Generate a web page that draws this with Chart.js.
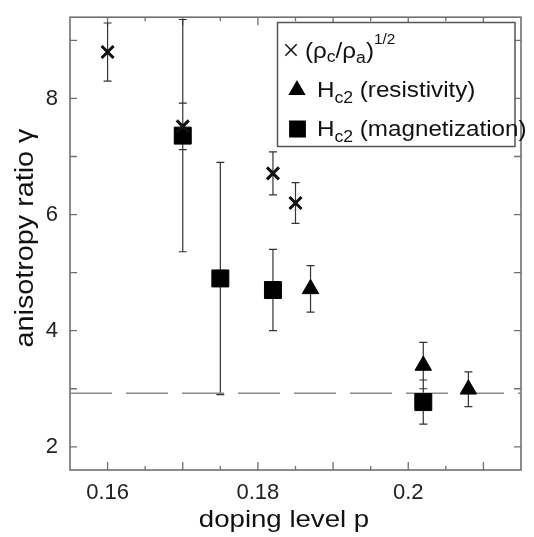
<!DOCTYPE html>
<html>
<head>
<meta charset="utf-8">
<script src="https://cdn.jsdelivr.net/npm/chart.js@4.4.1/dist/chart.umd.min.js"></script>
<style>
  html, body { margin: 0; padding: 0; background: #fff; }
  canvas { display: block; }
</style>
</head>
<body>
<canvas id="chart" width="534" height="537"></canvas>
<script>
// axes
const xMin = 0.155, xMax = 0.215;
const yMin = 1.6, yMax = 9.4;
const xTicks = [0.16, 0.18, 0.2];
const xTickLabels = ['0.16', '0.18', '0.2'];
const xTickMarks = [0.16, 0.17, 0.18, 0.19, 0.2, 0.21];
const xMinorMarks = [0.165, 0.175, 0.185, 0.195, 0.205];
const yTicks = [2, 4, 6, 8];
const yTickLabels = ['2', '4', '6', '8'];
const yTickMarks = [2, 3, 4, 5, 6, 7, 8, 9];

// (rho_c/rho_a)^1/2
const rhoP = [0.16, 0.17, 0.182, 0.185];
const rhoGamma = [8.8, 7.52, 6.71, 6.2];
const rhoErr = [0.5, 0.4, 0.37, 0.35];

// Hc2 from resistivity
const resP = [0.187, 0.202, 0.208];
const resGamma = [4.72, 3.4, 2.99];
const resErr = [0.4, 0.4, 0.3];

// Hc2 from magnetization
const magP = [0.17, 0.175, 0.182, 0.202];
const magGamma = [7.36, 4.9, 4.7, 2.77];
const magErr = [2.0, 2.0, 0.7, 0.38];

// dashed reference level
const limitGamma = 2.92;

const FONT = '"Liberation Sans", Arial, Helvetica, sans-serif';
const frameColor = '#707070';

function points(xs, ys) {
  return xs.map((x, i) => ({ x: x, y: ys[i] }));
}

// text with sub/superscripts, slightly stretched like the original
function drawRuns(ctx, runs, x, y, sx, align) {
  ctx.save();
  ctx.translate(x, y);
  ctx.scale(sx, 1);
  let total = 0;
  runs.forEach(r => { ctx.font = r.size + 'px ' + FONT; total += ctx.measureText(r.t).width; });
  let cx = align === 'center' ? -total / 2 : 0;
  ctx.textAlign = 'left';
  ctx.textBaseline = 'alphabetic';
  runs.forEach(r => {
    ctx.font = r.size + 'px ' + FONT;
    ctx.fillText(r.t, cx, r.dy || 0);
    cx += ctx.measureText(r.t).width;
  });
  ctx.restore();
}

const extras = {
  id: 'extras',
  beforeDatasetsDraw(chart) {
    const { ctx, chartArea: a, scales: { x, y } } = chart;
    ctx.save();
    // frame
    ctx.strokeStyle = frameColor;
    ctx.lineWidth = 1.6;
    ctx.strokeRect(a.left, a.top, a.right - a.left, a.bottom - a.top);
    // inward ticks on all four sides
    ctx.lineWidth = 1.3;
    ctx.beginPath();
    xTickMarks.concat(xMinorMarks).forEach(v => {
      const len = xMinorMarks.includes(v) ? 4 : 8;
      const px = x.getPixelForValue(v);
      ctx.moveTo(px, a.bottom); ctx.lineTo(px, a.bottom - len);
      ctx.moveTo(px, a.top); ctx.lineTo(px, a.top + len);
    });
    yTickMarks.forEach(v => {
      const py = y.getPixelForValue(v);
      ctx.moveTo(a.left, py); ctx.lineTo(a.left + 7, py);
      ctx.moveTo(a.right, py); ctx.lineTo(a.right - 7, py);
    });
    ctx.stroke();
    // error bars
    ctx.strokeStyle = '#333';
    ctx.lineWidth = 1.2;
    ctx.beginPath();
    chart.data.datasets.forEach(ds => {
      if (!ds.errors) return;
      ds.data.forEach((p, i) => {
        const px = x.getPixelForValue(p.x);
        const t = y.getPixelForValue(p.y + ds.errors[i]);
        const b = y.getPixelForValue(p.y - ds.errors[i]);
        ctx.moveTo(px, t); ctx.lineTo(px, b);
        ctx.moveTo(px - 4, t); ctx.lineTo(px + 4, t);
        ctx.moveTo(px - 4, b); ctx.lineTo(px + 4, b);
      });
    });
    ctx.stroke();
    ctx.restore();
  },
  afterDraw(chart) {
    const ctx = chart.ctx;
    const dp = Chart.helpers.drawPoint;
    ctx.save();
    // legend box
    ctx.fillStyle = '#fff';
    ctx.fillRect(277.5, 22.5, 237.5, 124);
    ctx.strokeStyle = '#555';
    ctx.lineWidth = 1.5;
    ctx.strokeRect(277.5, 22.5, 237.5, 124);
    // legend markers
    ctx.fillStyle = '#000';
    ctx.strokeStyle = '#111';
    dp(ctx, { pointStyle: 'crossRot', radius: 8, borderWidth: 3, rotation: 0 }, 291, 50);
    ctx.strokeStyle = '#000';
    dp(ctx, { pointStyle: 'triangle', radius: 8.5, borderWidth: 1, rotation: 0 }, 297, 90);
    dp(ctx, { pointStyle: 'rect', radius: 10.8, borderWidth: 1, rotation: 0 }, 297.5, 129);
    // legend text
    ctx.fillStyle = '#111';
    drawRuns(ctx, [
      { t: '(ρ', size: 22 }, { t: 'c', size: 16, dy: 4 },
      { t: '/ρ', size: 22 }, { t: 'a', size: 16, dy: 5 },
      { t: ')', size: 22 }, { t: '1/2', size: 14, dy: -14 }
    ], 305, 58, 1.1);
    drawRuns(ctx, [
      { t: 'H', size: 22 }, { t: 'c2', size: 16, dy: 6 }, { t: ' (resistivity)', size: 22 }
    ], 317, 96.5, 1.1);
    drawRuns(ctx, [
      { t: 'H', size: 22 }, { t: 'c2', size: 16, dy: 6 }, { t: ' (magnetization)', size: 22 }
    ], 317, 136, 1.1);
    // axis titles
    drawRuns(ctx, [{ t: 'doping level p', size: 24 }], 284, 527, 1.15, 'center');
    ctx.translate(33, 238);
    ctx.rotate(-Math.PI / 2);
    drawRuns(ctx, [{ t: 'anisotropy ratio γ', size: 25 }], 0, 0, 1.15, 'center');
    ctx.restore();
  }
};

new Chart(document.getElementById('chart'), {
  type: 'scatter',
  data: {
    datasets: [
      {
        label: '(ρc/ρa)^1/2',
        data: points(rhoP, rhoGamma),
        errors: rhoErr,
        pointStyle: 'crossRot',
        pointRadius: 8.5,
        pointBorderWidth: 3,
        pointBorderColor: '#111',
        pointBackgroundColor: '#111'
      },
      {
        label: 'Hc2 (resistivity)',
        data: points(resP, resGamma),
        errors: resErr,
        pointStyle: 'triangle',
        pointRadius: 9.5,
        pointBorderWidth: 1,
        pointBorderColor: '#000',
        pointBackgroundColor: '#000'
      },
      {
        label: 'Hc2 (magnetization)',
        data: points(magP, magGamma),
        errors: magErr,
        pointStyle: 'rect',
        pointRadius: 12,
        pointBorderWidth: 1,
        pointBorderColor: '#000',
        pointBackgroundColor: '#000'
      },
      {
        label: 'limit',
        data: [{ x: xMin, y: limitGamma }, { x: xMax, y: limitGamma }],
        showLine: true,
        pointRadius: 0,
        borderColor: '#8a8a8a',
        borderWidth: 1.5,
        borderDash: [42, 14]
      }
    ]
  },
  options: {
    responsive: false,
    animation: false,
    layout: { padding: { top: 9, right: 3.5, left: 0, bottom: 0 } },
    plugins: {
      legend: { display: false },
      tooltip: { enabled: false }
    },
    scales: {
      x: {
        type: 'linear',
        min: xMin,
        max: xMax,
        grid: { display: false },
        border: { display: false },
        afterBuildTicks: s => { s.ticks = xTicks.map(v => ({ value: v })); },
        afterFit: s => { s.height = 67; },
        ticks: {
          font: { family: FONT, size: 22 },
          color: '#222',
          padding: 2,
          maxRotation: 0,
          autoSkip: false,
          callback: v => xTickLabels[xTicks.indexOf(v)]
        }
      },
      y: {
        type: 'linear',
        min: yMin,
        max: yMax,
        grid: { display: false },
        border: { display: false },
        afterBuildTicks: s => { s.ticks = yTicks.map(v => ({ value: v })); },
        afterFit: s => { s.width = 70; },
        ticks: {
          font: { family: FONT, size: 22 },
          color: '#222',
          padding: 4,
          autoSkip: false,
          callback: v => yTickLabels[yTicks.indexOf(v)]
        }
      }
    }
  },
  plugins: [extras]
});
</script>
</body>
</html>
